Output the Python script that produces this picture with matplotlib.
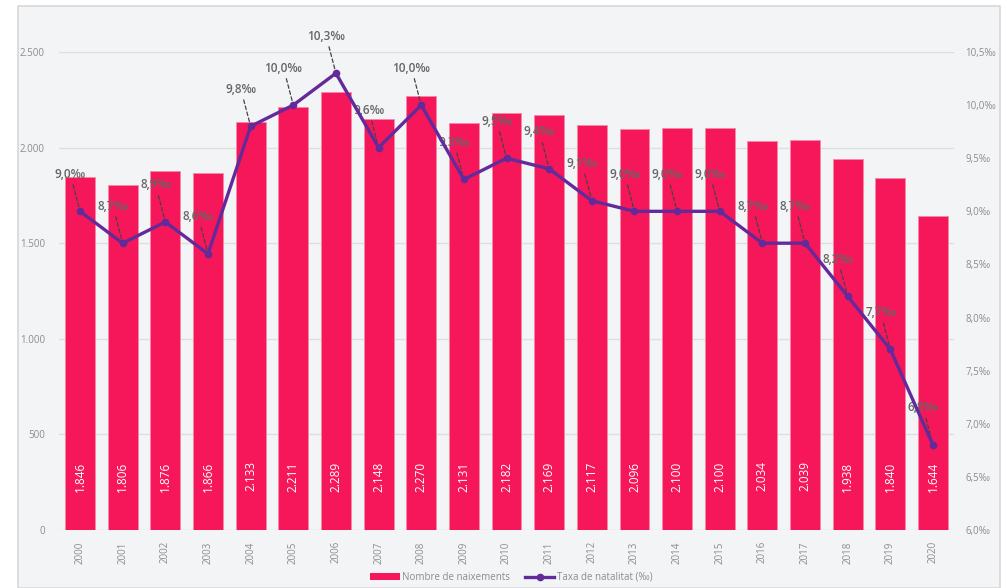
import matplotlib.pyplot as plt
from matplotlib.patches import Rectangle
from matplotlib.lines import Line2D
from matplotlib.patches import Patch

years = [str(y) for y in range(2000, 2021)]
naixements = [1846, 1806, 1876, 1866, 2133, 2211, 2289, 2148, 2270, 2131, 2182,
              2169, 2117, 2096, 2100, 2100, 2034, 2039, 1938, 1840, 1644]
taxa = [9.0, 8.7, 8.9, 8.6, 9.8, 10.0, 10.3, 9.6, 10.0, 9.3, 9.5,
        9.4, 9.1, 9.0, 9.0, 9.0, 8.7, 8.7, 8.2, 7.7, 6.8]

def fmt_es(v, dec=0):
    s = f"{v:,.{dec}f}"
    return s.replace(",", "X").replace(".", ",").replace("X", ".")

bar_col = '#f5175a'
line_col = '#632b9a'
txt_col = '#8c8c8c'
lab_col = '#666666'

plt.rcParams['font.family'] = ['Open Sans', 'DejaVu Sans']

fig = plt.figure(figsize=(10.07, 5.88), dpi=100)
fig.patch.set_facecolor('white')
fig.patches.append(Rectangle((18 / 1007, 0), 982 / 1007, 582 / 588,
                             transform=fig.transFigure, facecolor='#f3f4f6',
                             edgecolor='#d8d8d8', lw=1.2, zorder=-5))

ax = fig.add_axes([0.0583, 0.0986, 0.8894, 0.813])
ax.set_facecolor('none')
x = list(range(len(years)))
ax.bar(x, naixements, width=0.7, color=bar_col, edgecolor='#f58aa8', lw=0.6, zorder=2)
for xi, v in zip(x, naixements):
    ax.text(xi, 280, fmt_es(v), rotation=90, ha='center', va='center',
            color='white', fontsize=8.5, zorder=3)
ax.set_ylim(0, 2500)
ax.set_xlim(-0.5, 20.5)
ax.set_yticks(range(0, 2501, 500))
ax.set_yticklabels([fmt_es(v) for v in range(0, 2501, 500)], fontsize=7, color=txt_col)
ax.set_xticks(x)
ax.set_xticklabels(years, rotation=90, fontsize=7, color=txt_col)
ax.tick_params(length=0, pad=8)
ax.tick_params(axis='y', pad=10)
ax.grid(axis='y', color='#dedede', lw=1, zorder=0)
ax.set_axisbelow(True)
for s in ax.spines.values():
    s.set_visible(False)

ax2 = ax.twinx()
ax2.plot(x, taxa, color=line_col, lw=2.4, marker='o', ms=4.5, zorder=5, clip_on=False)
ax2.set_ylim(6.0, 10.5)
ax2.set_yticks([6.0 + 0.5 * i for i in range(10)])
ax2.set_yticklabels([fmt_es(6.0 + 0.5 * i, 1) + '‰' for i in range(10)],
                    fontsize=7, color=txt_col)
ax2.tick_params(length=0, pad=8)
for s in ax2.spines.values():
    s.set_visible(False)
for xi, v in zip(x, taxa):
    ax2.annotate(fmt_es(v, 1) + '‰', xy=(xi, v), xytext=(-7, 22),
                 textcoords='offset points', ha='center', va='bottom',
                 fontsize=8.5, fontweight='semibold', color=lab_col,
                 annotation_clip=False,
                 arrowprops=dict(arrowstyle='-', ls=(0, (3, 2)), color='#444444',
                                 lw=0.9, shrinkA=1, shrinkB=2))

handles = [Patch(facecolor=bar_col, label='Nombre de naixements'),
           Line2D([0], [0], color=line_col, lw=2.4, marker='o', ms=4.5,
                  label='Taxa de natalitat (‰)')]
fig.legend(handles=handles, loc='center', bbox_to_anchor=(0.508, 0.018), ncol=2,
           frameon=False, fontsize=7, labelcolor=txt_col, handlelength=3,
           handletextpad=0.3, columnspacing=1.5)

fig.savefig('out.png', dpi=100, facecolor=fig.get_facecolor())
